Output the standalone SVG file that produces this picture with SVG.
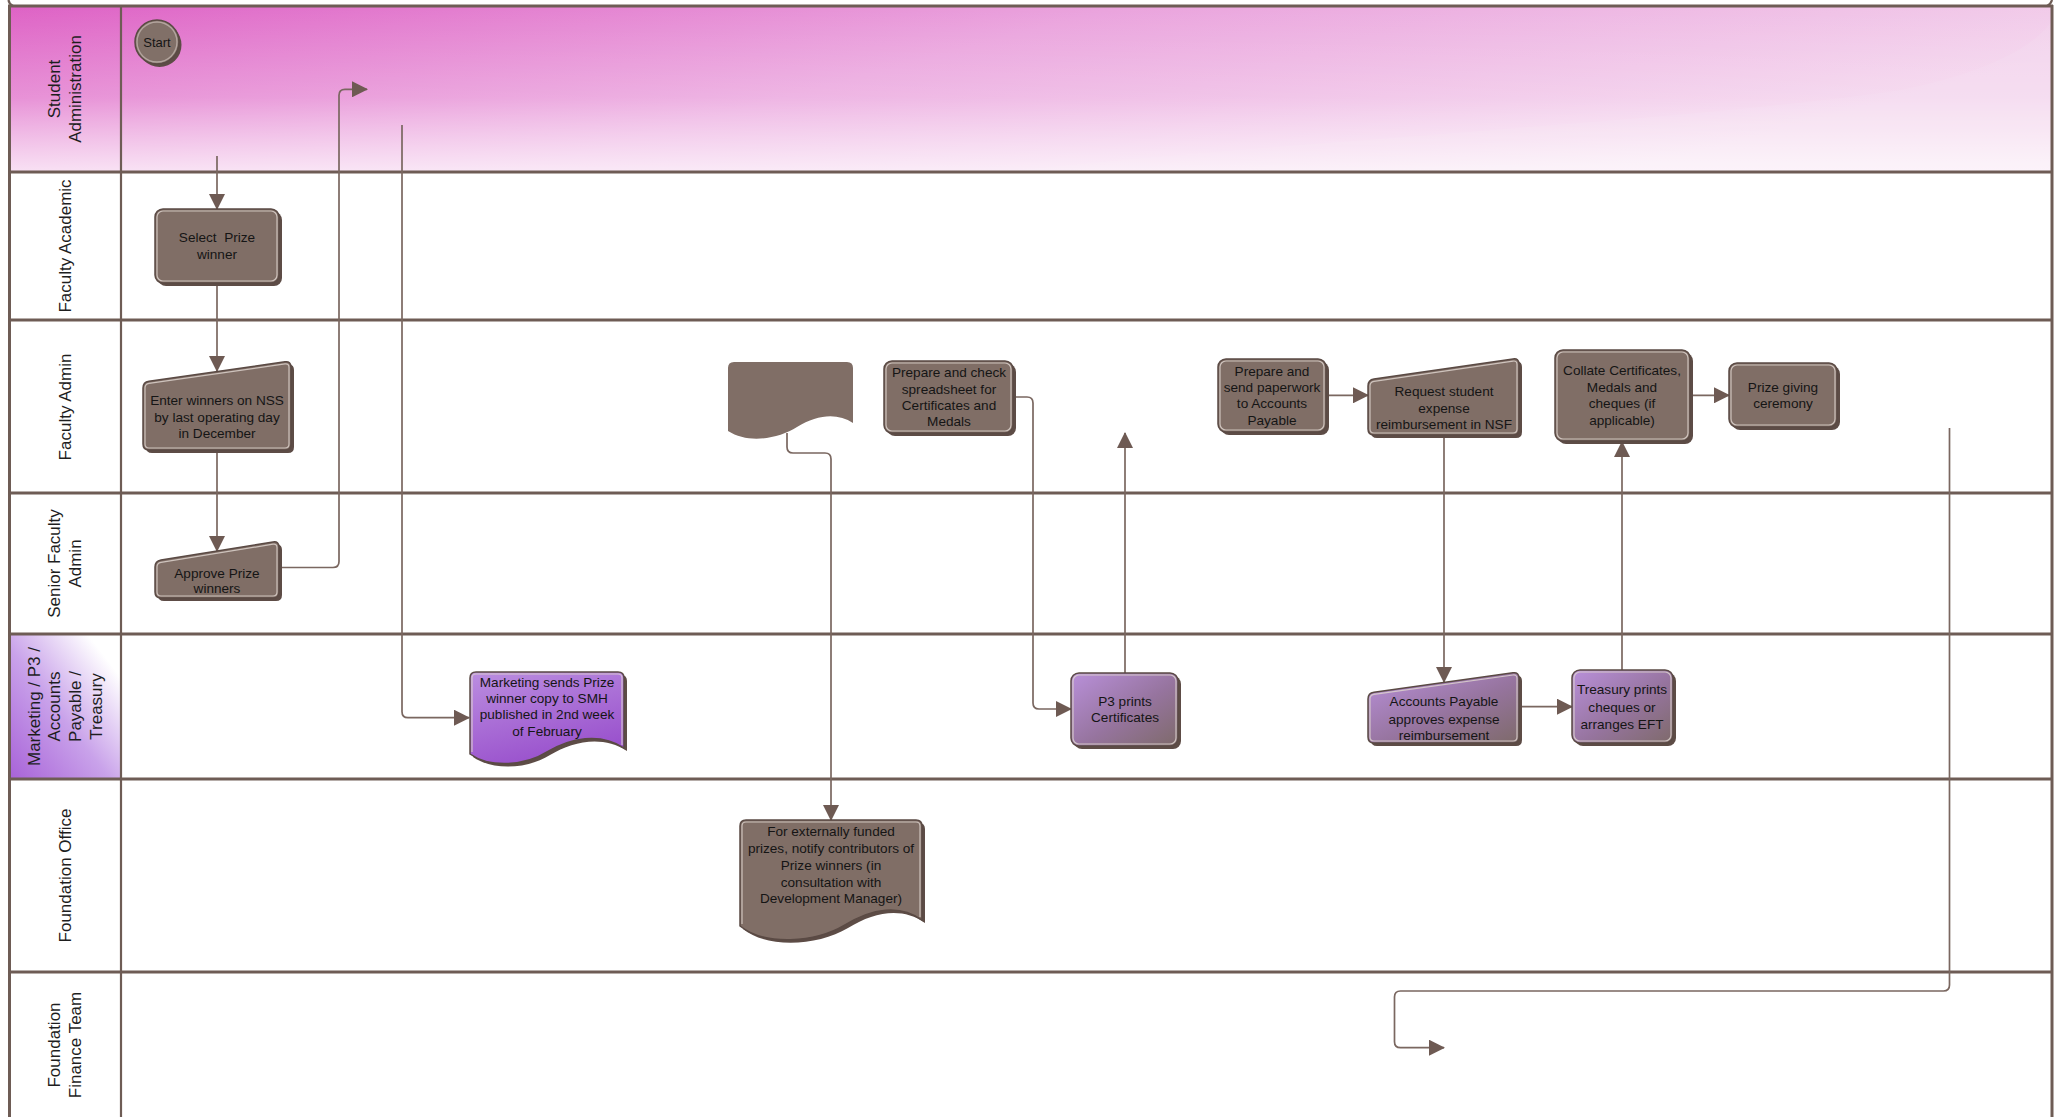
<svg xmlns="http://www.w3.org/2000/svg" width="2060" height="1117" viewBox="0 0 2060 1117">
<defs>
<linearGradient id="saBase" x1="0" y1="0" x2="1" y2="0.3">
<stop offset="0" stop-color="#de62c5"/>
<stop offset="0.5" stop-color="#eaa3dd"/>
<stop offset="1" stop-color="#f3d2ec"/>
</linearGradient>
<linearGradient id="saFade" x1="0" y1="0" x2="0" y2="1">
<stop offset="0" stop-color="#ffffff" stop-opacity="0"/>
<stop offset="0.55" stop-color="#ffffff" stop-opacity="0.2"/>
<stop offset="1" stop-color="#ffffff" stop-opacity="0.75"/>
</linearGradient>
<linearGradient id="mkHead" x1="0" y1="1" x2="1" y2="0">
<stop offset="0" stop-color="#a862d8"/>
<stop offset="0.45" stop-color="#c9a2ea"/>
<stop offset="0.85" stop-color="#ffffff"/>
</linearGradient>
<linearGradient id="purpDoc" x1="0" y1="0" x2="0.4" y2="1">
<stop offset="0" stop-color="#bb8ee0"/>
<stop offset="1" stop-color="#9a52cd"/>
</linearGradient>
<linearGradient id="purpBox" x1="0" y1="0" x2="1" y2="1">
<stop offset="0" stop-color="#b990da"/>
<stop offset="0.55" stop-color="#96749e"/>
<stop offset="1" stop-color="#7e6a6a"/>
</linearGradient>
<marker id="arr" markerUnits="userSpaceOnUse" markerWidth="16" markerHeight="16" viewBox="0 0 16 16" refX="15" refY="8" orient="auto">
<path d="M0,0 L16,8 L0,16 Z" fill="#6e5a53"/>
</marker>
<style>
.lane{stroke:#6e5c55;stroke-width:3;fill:none}
.vl{stroke:#6e5c55;stroke-width:2.2;fill:none}
.lbl{font-family:"Liberation Sans",Arial,sans-serif;font-size:17px;fill:#1e1e1e;text-anchor:middle}
.t{font-family:"Liberation Sans",Arial,sans-serif;font-size:13.6px;fill:#151515;text-anchor:middle}
.sh{fill:#5d4c46}
.nd{fill:#806e66;stroke:#5a4a44;stroke-width:1.5}
.hl{fill:none;stroke:#dcd2cd;stroke-width:1.2;opacity:0.85}
.conn{fill:none;stroke:#7a6760;stroke-width:1.7;marker-end:url(#arr)}
</style>
</defs>
<rect x="0" y="0" width="2060" height="1117" fill="#ffffff"/>
<g id="lanes">
<rect x="10" y="6" width="2042" height="166" fill="url(#saBase)"/>
<rect x="10" y="6" width="2042" height="166" fill="url(#saFade)"/>
<path d="M1000,172 C1300,140 1700,120 1900,90 C2000,70 2040,40 2052,20 L2052,172 Z" fill="#ffffff" opacity="0.07"/>
<rect x="10" y="634" width="111" height="145" fill="url(#mkHead)"/>
<line class="lane" x1="8" y1="6" x2="2053" y2="6"/>
<line class="lane" x1="10" y1="172" x2="2052" y2="172"/>
<line class="lane" x1="10" y1="320" x2="2052" y2="320"/>
<line class="lane" x1="10" y1="493" x2="2052" y2="493"/>
<line class="lane" x1="10" y1="634" x2="2052" y2="634"/>
<line class="lane" x1="10" y1="779" x2="2052" y2="779"/>
<line class="lane" x1="10" y1="972" x2="2052" y2="972"/>
<line class="lane" x1="9.5" y1="5" x2="9.5" y2="1117"/>
<line class="vl" x1="121" y1="6" x2="121" y2="1117"/>
<line class="lane" x1="2052" y1="5" x2="2052" y2="1117"/>
<path d="M8.5,0 Q9,4 13,6" class="vl"/>
<path d="M2052,0 Q2051,4 2047,6" class="vl"/>
<text class="lbl" transform="translate(59.6,89) rotate(-90)">Student</text>
<text class="lbl" transform="translate(81,89) rotate(-90)">Administration</text>
<text class="lbl" transform="translate(70.7,246) rotate(-90)">Faculty Academic</text>
<text class="lbl" transform="translate(70.7,407) rotate(-90)">Faculty Admin</text>
<text class="lbl" transform="translate(59.6,563.5) rotate(-90)">Senior Faculty</text>
<text class="lbl" transform="translate(81,563.5) rotate(-90)">Admin</text>
<text class="lbl" transform="translate(39.5,706.5) rotate(-90)">Marketing / P3 /</text>
<text class="lbl" transform="translate(59.6,706.5) rotate(-90)">Accounts</text>
<text class="lbl" transform="translate(81,706.5) rotate(-90)">Payable /</text>
<text class="lbl" transform="translate(102,706.5) rotate(-90)">Treasury</text>
<text class="lbl" transform="translate(70.7,875.5) rotate(-90)">Foundation Office</text>
<text class="lbl" transform="translate(59.6,1045) rotate(-90)">Foundation</text>
<text class="lbl" transform="translate(81,1045) rotate(-90)">Finance Team</text>
</g>
<g id="connectors">
<path class="conn" d="M217,156 V209"/>
<path class="conn" d="M217,283 V371"/>
<path class="conn" d="M217,450 V551"/>
<path class="conn" d="M279,567.5 H333 Q339,567.5 339,561.5 V95.3 Q339,89.3 345,89.3 H367"/>
<path class="conn" d="M402,125 V711.7 Q402,717.7 408,717.7 H469"/>
<path class="conn" d="M787,433 V447 Q787,453 793,453 H825 Q831,453 831,459 V820"/>
<path class="conn" d="M1013,397 H1027 Q1033,397 1033,403 V703 Q1033,709 1039,709 H1071"/>
<path class="conn" d="M1125,673 V433"/>
<path class="conn" d="M1326,395.3 H1368"/>
<path class="conn" d="M1444,435 V682"/>
<path class="conn" d="M1519,706.7 H1572"/>
<path class="conn" d="M1622,670 V442"/>
<path class="conn" d="M1690,395.3 H1729"/>
<path class="conn" d="M1949.5,428 V985 Q1949.5,991 1943.5,991 H1400.5 Q1394.5,991 1394.5,997 V1041.7 Q1394.5,1047.7 1400.5,1047.7 H1444"/>
</g>
<g id="start">
<circle class="sh" cx="159.5" cy="45" r="22"/>
<circle cx="157" cy="42" r="22" fill="#817068" stroke="#5a4a44" stroke-width="1.5"/>
<circle cx="157" cy="42" r="20" fill="none" stroke="#b3a59e" stroke-width="1.4"/>
<text class="t" x="157" y="46.5" style="font-size:13px">Start</text>
</g>
<g id="select-prize-winner">
<rect class="sh" x="158" y="212" width="124" height="74" rx="8"/>
<rect class="nd" x="155" y="209" width="124" height="74" rx="8"/>
<rect class="hl" x="157" y="211" width="120" height="70" rx="6"/>
<text class="t" x="217" y="242" xml:space="preserve">Select  Prize</text>
<text class="t" x="217" y="259">winner</text>
</g>
<g id="enter-winners">
<path class="sh" transform="translate(3,3)" d="M143,388 Q143,382 149,381.2 L285,361.8 Q291,361 291,367 V444 Q291,450 285,450 H149 Q143,450 143,444 Z"/>
<path class="nd" d="M143,388 Q143,382 149,381.2 L285,361.8 Q291,361 291,367 V444 Q291,450 285,450 H149 Q143,450 143,444 Z"/>
<path class="hl" d="M145,388 Q145,384 149,383.4 L285,363.9 Q289,363.3 289,367.3 V444 Q289,448 285,448 H149 Q145,448 145,444 Z"/>
<text class="t" x="217" y="405">Enter winners on NSS</text>
<text class="t" x="217" y="421.7">by last operating day</text>
<text class="t" x="217" y="438.3">in December</text>
</g>
<g id="approve-prize-winners">
<path class="sh" transform="translate(3,3)" d="M155,567 Q155,561 161,560 L273,542 Q279,541 279,547 V592 Q279,598 273,598 H161 Q155,598 155,592 Z"/>
<path class="nd" d="M155,567 Q155,561 161,560 L273,542 Q279,541 279,547 V592 Q279,598 273,598 H161 Q155,598 155,592 Z"/>
<path class="hl" d="M157,567 Q157,563 161,562.4 L273,544.2 Q277,543.5 277,547.5 V592 Q277,596 273,596 H161 Q157,596 157,592 Z"/>
<text class="t" x="217" y="577.7">Approve Prize</text>
<text class="t" x="217" y="593.3">winners</text>
</g>
<g id="marketing-sends">
<path class="sh" transform="translate(3,3)" d="M476,672 H618 Q624,672 624,678 V748 C600,732 570,738 547,752 C525,766 490,768 470,754 V678 Q470,672 476,672 Z"/>
<path d="M476,672 H618 Q624,672 624,678 V748 C600,732 570,738 547,752 C525,766 490,768 470,754 V678 Q470,672 476,672 Z" fill="url(#purpDoc)" stroke="#5a4a44" stroke-width="1.5"/>
<path class="hl" d="M472,752 V678 Q472,674 476,674 H618 Q622,674 622,678 V745"/>
<text class="t" x="547" y="686.7">Marketing sends Prize</text>
<text class="t" x="547" y="702.7">winner copy to SMH</text>
<text class="t" x="547" y="719.3">published in 2nd week</text>
<text class="t" x="547" y="736">of February</text>
</g>
<g id="blank-document">
<path d="M734,362 H847 Q853,362 853,368 V423 C838,413 818,414 797,427 C778,439 748,444 728,431 V368 Q728,362 734,362 Z" fill="#806e66"/>
</g>
<g id="prepare-spreadsheet">
<rect class="sh" x="887" y="364" width="129" height="72" rx="8"/>
<rect class="nd" x="884" y="361" width="129" height="72" rx="8"/>
<rect class="hl" x="886" y="363" width="125" height="68" rx="6"/>
<text class="t" x="949" y="377.3">Prepare and check</text>
<text class="t" x="949" y="393.7">spreadsheet for</text>
<text class="t" x="949" y="410.3">Certificates and</text>
<text class="t" x="949" y="426">Medals</text>
</g>
<g id="p3-prints">
<rect class="sh" x="1074" y="676" width="107" height="73" rx="8"/>
<rect x="1071" y="673" width="107" height="73" rx="8" fill="url(#purpBox)" stroke="#5a4a44" stroke-width="1.5"/>
<rect class="hl" x="1073" y="675" width="103" height="69" rx="6"/>
<text class="t" x="1125" y="706">P3 prints</text>
<text class="t" x="1125" y="722.3">Certificates</text>
</g>
<g id="prepare-paperwork">
<rect class="sh" x="1221" y="362" width="108" height="73" rx="8"/>
<rect class="nd" x="1218" y="359" width="108" height="73" rx="8"/>
<rect class="hl" x="1220" y="361" width="104" height="69" rx="6"/>
<text class="t" x="1272" y="375.7">Prepare and</text>
<text class="t" x="1272" y="391.7">send paperwork</text>
<text class="t" x="1272" y="408.3">to Accounts</text>
<text class="t" x="1272" y="425">Payable</text>
</g>
<g id="request-reimbursement">
<path class="sh" transform="translate(3,3)" d="M1368,386 Q1368,380 1374,379.1 L1513,358.9 Q1519,358 1519,364 V429 Q1519,435 1513,435 H1374 Q1368,435 1368,429 Z"/>
<path class="nd" d="M1368,386 Q1368,380 1374,379.1 L1513,358.9 Q1519,358 1519,364 V429 Q1519,435 1513,435 H1374 Q1368,435 1368,429 Z"/>
<path class="hl" d="M1370,386 Q1370,382 1374,381.4 L1513,361.1 Q1517,360.5 1517,364.5 V429 Q1517,433 1513,433 H1374 Q1370,433 1370,429 Z"/>
<text class="t" x="1444" y="395.7">Request student</text>
<text class="t" x="1444" y="412.7">expense</text>
<text class="t" x="1444" y="429.3">reimbursement in NSF</text>
</g>
<g id="accounts-payable-approves">
<path class="sh" transform="translate(3,3)" d="M1368,699 Q1368,693 1374,692.2 L1513,672.8 Q1519,672 1519,678 V737 Q1519,743 1513,743 H1374 Q1368,743 1368,737 Z"/>
<path d="M1368,699 Q1368,693 1374,692.2 L1513,672.8 Q1519,672 1519,678 V737 Q1519,743 1513,743 H1374 Q1368,743 1368,737 Z" fill="url(#purpBox)" stroke="#5a4a44" stroke-width="1.5"/>
<path class="hl" d="M1370,699 Q1370,695 1374,694.4 L1513,675 Q1517,674.5 1517,678.5 V737 Q1517,741 1513,741 H1374 Q1370,741 1370,737 Z"/>
<text class="t" x="1444" y="706">Accounts Payable</text>
<text class="t" x="1444" y="723.7">approves expense</text>
<text class="t" x="1444" y="740.3">reimbursement</text>
</g>
<g id="treasury-prints">
<rect class="sh" x="1575" y="673" width="101" height="73" rx="8"/>
<rect x="1572" y="670" width="101" height="73" rx="8" fill="url(#purpBox)" stroke="#5a4a44" stroke-width="1.5"/>
<rect class="hl" x="1574" y="672" width="97" height="69" rx="6"/>
<text class="t" x="1622" y="694.3">Treasury prints</text>
<text class="t" x="1622" y="711.7">cheques or</text>
<text class="t" x="1622" y="729">arranges EFT</text>
</g>
<g id="collate">
<rect class="sh" x="1558" y="353" width="135" height="91" rx="8"/>
<rect class="nd" x="1555" y="350" width="135" height="91" rx="8"/>
<rect class="hl" x="1557" y="352" width="131" height="87" rx="6"/>
<text class="t" x="1622" y="375.3">Collate Certificates,</text>
<text class="t" x="1622" y="391.7">Medals and</text>
<text class="t" x="1622" y="408.3">cheques (if</text>
<text class="t" x="1622" y="425">applicable)</text>
</g>
<g id="prize-giving">
<rect class="sh" x="1732" y="366" width="108" height="64" rx="8"/>
<rect class="nd" x="1729" y="363" width="108" height="64" rx="8"/>
<rect class="hl" x="1731" y="365" width="104" height="60" rx="6"/>
<text class="t" x="1783" y="391.7">Prize giving</text>
<text class="t" x="1783" y="408.3">ceremony</text>
</g>
<g id="foundation-notify">
<path class="sh" transform="translate(3,3)" d="M746,820 H916 Q922,820 922,826 V920 C900,904 872,908 845,925 C815,943 765,946 740,926 V826 Q740,820 746,820 Z"/>
<path class="nd" d="M746,820 H916 Q922,820 922,826 V920 C900,904 872,908 845,925 C815,943 765,946 740,926 V826 Q740,820 746,820 Z"/>
<path class="hl" d="M742,924 V826 Q742,822 746,822 H916 Q920,822 920,826 V917"/>
<text class="t" x="831" y="836">For externally funded</text>
<text class="t" x="831" y="853.3">prizes, notify contributors of</text>
<text class="t" x="831" y="869.7">Prize winners (in</text>
<text class="t" x="831" y="886.7">consultation with</text>
<text class="t" x="831" y="903.3">Development Manager)</text>
</g>
</svg>
